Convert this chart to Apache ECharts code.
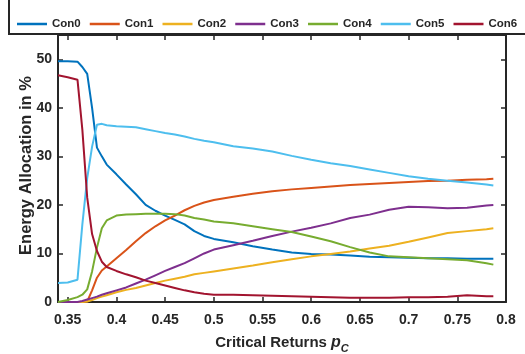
<!DOCTYPE html>
<html>
<head>
<meta charset="utf-8">
<script src="https://cdn.jsdelivr.net/npm/echarts@6/dist/echarts.min.js"></script>
<style>
  html, body { margin: 0; padding: 0; background: #fff; }
  #chart { width: 525px; height: 354px; }
</style>
</head>
<body>
<div id="chart"></div>
<script>
// critical returns (x) shared by all series
const pc = [0.34, 0.35, 0.36, 0.365, 0.37, 0.375, 0.38, 0.385, 0.39,
  0.40, 0.41, 0.42, 0.43, 0.44, 0.45, 0.46, 0.47, 0.48, 0.49, 0.50,
  0.52, 0.54, 0.56, 0.58, 0.60, 0.62, 0.64, 0.66, 0.68, 0.70, 0.72, 0.74, 0.76, 0.78, 0.787];

// energy allocation in %
const con0 = [49.6, 49.6, 49.5, 48.4, 47.0, 40.0, 31.8, 30.0, 28.3,
  26.3, 24.2, 22.2, 20.0, 18.8, 17.8, 16.9, 16.0, 14.6, 13.6, 13.0,
  12.3, 11.5, 10.8, 10.2, 9.9, 9.8, 9.6, 9.3, 9.2, 9.1, 9.0, 9.0, 8.9, 8.9, 8.9];
const con1 = [0, 0, 0, 0, 0.1, 2.4, 5.0, 6.5, 7.3,
  9.0, 10.7, 12.5, 14.2, 15.6, 16.8, 17.8, 18.9, 19.8, 20.5, 21.0,
  21.7, 22.3, 22.8, 23.2, 23.5, 23.8, 24.1, 24.3, 24.5, 24.7, 24.9, 25.0, 25.2, 25.3, 25.4];
const con2 = [0, 0, 0, 0, 0.1, 0.4, 0.8, 1.1, 1.4,
  2.0, 2.5, 2.9, 3.4, 3.9, 4.4, 4.8, 5.2, 5.7, 6.0, 6.3,
  6.9, 7.5, 8.2, 8.8, 9.4, 9.9, 10.4, 11.0, 11.6, 12.4, 13.3, 14.2, 14.6, 15.0, 15.2];
const con3 = [0, 0, 0, 0.2, 0.5, 0.8, 1.1, 1.5, 1.8,
  2.4, 3.0, 3.8, 4.6, 5.5, 6.4, 7.2, 8.0, 9.0, 10.0, 10.8,
  11.7, 12.6, 13.6, 14.5, 15.3, 16.2, 17.3, 18.0, 19.0, 19.6, 19.5, 19.3, 19.4, 19.9, 20.0];
const con4 = [0, 0.4, 1.0, 1.5, 2.6, 6.3, 11.2, 15.2, 16.8,
  17.8, 18.0, 18.1, 18.2, 18.2, 18.2, 18.1, 17.8, 17.3, 17.0, 16.6,
  16.2, 15.6, 15.0, 14.4, 13.5, 12.5, 11.3, 10.2, 9.4, 9.2, 9.0, 8.8, 8.6, 8.0, 7.7];
const con5 = [3.9, 4.0, 4.6, 16.0, 25.5, 32.0, 36.5, 36.7, 36.4,
  36.2, 36.1, 36.0, 35.6, 35.2, 34.8, 34.5, 34.1, 33.6, 33.2, 32.9,
  32.1, 31.6, 31.0, 30.1, 29.3, 28.6, 28.0, 27.3, 26.6, 25.9, 25.4, 25.0, 24.6, 24.2, 24.0];
const con6 = [46.7, 46.3, 45.8, 35.5, 21.5, 14.0, 10.5, 8.3, 7.2,
  6.4, 5.7, 5.1, 4.4, 3.9, 3.4, 2.9, 2.4, 2.0, 1.7, 1.5,
  1.5, 1.4, 1.3, 1.2, 1.1, 1.0, 0.9, 0.9, 0.9, 1.0, 1.0, 1.1, 1.4, 1.2, 1.2];

const names = ["Con0", "Con1", "Con2", "Con3", "Con4", "Con5", "Con6"];
const values = [con0, con1, con2, con3, con4, con5, con6];
const colors = ["#0072BD", "#D95319", "#EDB120", "#7E2F8E", "#77AC30", "#4DBEEE", "#A2142F"];

const xTicks = [0.35, 0.4, 0.45, 0.5, 0.55, 0.6, 0.65, 0.7, 0.75, 0.8];
const yTicks = [0, 10, 20, 30, 40, 50];

const font = "'Liberation Sans', Arial, Helvetica, sans-serif";
const ink = "#262626";

const axisLine = { show: true, onZero: false, lineStyle: { color: ink, width: 2 } };

let myChart = echarts.init(document.getElementById("chart"));
myChart.setOption({
  animation: false,
  backgroundColor: "#fff",
  textStyle: { fontFamily: font },
  graphic: [
    {
      // legend box (top edge is cut off in the figure)
      type: "polyline",
      shape: { points: [[9, -2], [9, 34], [530, 34]] },
      style: { stroke: ink, lineWidth: 2, fill: null },
      z: 10
    }
  ],
  legend: {
    data: names,
    left: 12,
    top: 13,
    width: 512,
    icon: "rect",
    itemWidth: 30,
    itemHeight: 2.5,
    itemGap: 9,
    textStyle: {
      fontWeight: "bold",
      fontSize: 11.5,
      color: ink
    }
  },
  grid: { left: 58, right: 19, top: 35, bottom: 52, outerBoundsMode: "none" },
  xAxis: [
    {
      type: "value",
      min: 0.34,
      max: 0.8,
      axisLine: axisLine,
      splitLine: { show: false },
      axisTick: { inside: true, length: 5, customValues: xTicks, lineStyle: { color: ink, width: 1.5 } },
      axisLabel: {
        customValues: xTicks,
        margin: 11,
        fontSize: 14,
        fontWeight: "bold",
        color: ink
      },
      name: "{a|Critical Returns }{p|p}{c|C}",
      nameLocation: "middle",
      nameMoveOverlap: false,
      nameGap: 30,
      nameTextStyle: {
        rich: {
          a: { fontSize: 15, fontWeight: "bold", color: ink, lineHeight: 22, verticalAlign: "middle" },
          p: { fontSize: 16, fontWeight: "bold", fontStyle: "italic", color: ink, lineHeight: 22, verticalAlign: "middle" },
          c: { fontSize: 11, fontWeight: "bold", fontStyle: "italic", color: ink, lineHeight: 12, verticalAlign: "bottom" }
        }
      }
    },
    {
      type: "value",
      position: "top",
      min: 0.34,
      max: 0.8,
      axisLine: axisLine,
      splitLine: { show: false },
      axisTick: { inside: true, length: 5, customValues: xTicks, lineStyle: { color: ink, width: 1.5 } },
      axisLabel: { show: false }
    }
  ],
  yAxis: [
    {
      type: "value",
      min: 0,
      max: 55,
      axisLine: axisLine,
      splitLine: { show: false },
      axisTick: { inside: true, length: 5, customValues: yTicks, lineStyle: { color: ink, width: 1.5 } },
      axisLabel: {
        customValues: yTicks,
        margin: 6,
        fontSize: 14,
        fontWeight: "bold",
        color: ink
      },
      name: "Energy Allocation in %",
      nameLocation: "middle",
      nameMoveOverlap: false,
      nameGap: 23,
      nameTextStyle: { fontSize: 16.5, fontWeight: "bold", color: ink, padding: [0, 0, 0, 6] }
    },
    {
      type: "value",
      position: "right",
      min: 0,
      max: 55,
      axisLine: axisLine,
      splitLine: { show: false },
      axisTick: { inside: true, length: 5, customValues: yTicks, lineStyle: { color: ink, width: 1.5 } },
      axisLabel: { show: false }
    }
  ],
  series: names.map((n, k) => ({
    name: n,
    type: "line",
    xAxisIndex: 0,
    yAxisIndex: 0,
    showSymbol: false,
    symbol: "none",
    color: colors[k],
    lineStyle: { color: colors[k], width: 2 },
    data: pc.map((x, i) => [x, values[k][i]])
  }))
});
</script>
</body>
</html>
